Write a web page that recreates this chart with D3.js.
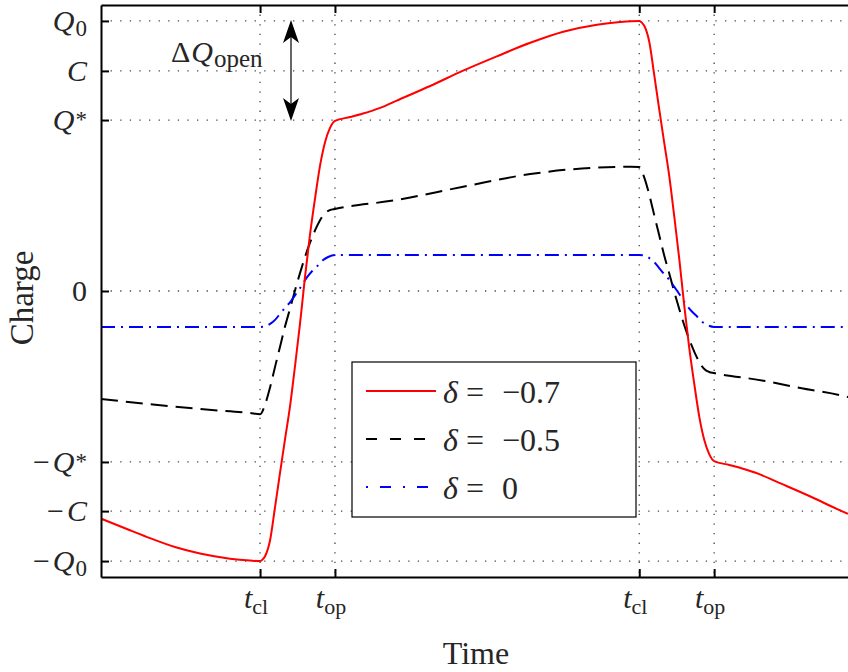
<!DOCTYPE html>
<html><head><meta charset="utf-8">
<script src="https://cdn.jsdelivr.net/npm/d3@7"></script>
<style>html,body{margin:0;padding:0;background:#fff;} svg{display:block;}</style>
</head><body>
<svg id="c" width="848" height="672"></svg>
<script>
// ---------- data ----------
const xTickValues = [41.95, 61.7, 141.95, 161.7];
const xTickLabels = [["t","cl"],["t","op"],["t","cl"],["t","op"]];
const yTickValues = [-100, -81.5, -63.3, 0, 63.3, 81.5, 100];
// [prefix, main(italic), sub, sup]
const yTickLabels = [["−","Q","0",""],["−","C","",""],["−","Q","","*"],["","0","",""],["","Q","","*"],["","C","",""],["","Q","0",""]];
const seriesNames = ["δ = −0.7","δ = −0.5","δ = 0"];
const seriesColors = ["#ff0000","#000000","#0000ff"];

const redT = [0, 7.65, 12.9, 19.5, 26.1, 34.0, 39.3, 41.95, 42.7, 43.3, 44.6, 45.9, 47.2, 48.5, 49.9, 51.2, 52.5, 53.8, 55.1, 56.5, 57.8, 59.1, 60.4, 61.7, 65.7, 69.1, 73.6, 78.0, 86.8, 95.5, 104.4, 113.2, 121.9, 130.8, 136.9, 141.95, 142.7, 143.3, 144.6, 145.9, 147.2, 148.5, 149.9, 151.2, 152.5, 153.8, 155.1, 156.5, 157.8, 159.1, 160.4, 161.7, 165.7, 169.1, 173.6, 178.0, 186.8, 195.5, 197];
const redQ = [-84.3, -88.6, -91.5, -94.8, -97.2, -99.1, -99.8, -100, -99.3, -98.1, -92.2, -80.0, -67.4, -55.2, -42.2, -27.4, -11.9, 5.2, 20.7, 34.8, 46.7, 55.2, 60.4, 63.0, 64.4, 65.7, 67.8, 70.5, 75.9, 81.6, 86.9, 91.9, 96.0, 98.6, 99.6, 100, 99.3, 98.1, 92.2, 80.0, 67.4, 55.2, 42.2, 27.4, 11.9, -5.2, -20.7, -34.8, -46.7, -55.2, -60.4, -63.0, -64.4, -65.7, -67.8, -70.5, -75.9, -81.6, -82.5];

const blackT = [0, 12.9, 26.1, 39.3, 41.95, 43.3, 44.6, 45.9, 47.2, 48.5, 49.9, 51.2, 52.5, 53.8, 55.1, 56.5, 57.8, 59.1, 60.4, 61.7, 78.0, 95.5, 113.2, 130.8, 139.6, 141.95, 143.3, 144.6, 145.9, 147.2, 148.5, 149.9, 151.2, 152.5, 153.8, 155.1, 156.5, 157.8, 159.1, 160.4, 161.7, 174.7, 184.4, 195.9, 197];
const blackQ = [-40.0, -41.9, -43.7, -45.2, -45.6, -41.9, -35.6, -28.1, -20.7, -13.3, -6.3, 0.4, 6.7, 12.6, 17.8, 22.6, 26.3, 28.9, 30.0, 30.4, 33.7, 38.6, 43.3, 45.7, 46.0, 45.9, 41.9, 35.6, 28.1, 20.7, 13.3, 6.3, -0.4, -6.7, -12.6, -17.8, -22.6, -26.3, -28.9, -30.0, -30.4, -33.2, -35.9, -38.9, -39.3];

const blueT = [0, 41.95, 43.3, 44.6, 45.9, 47.2, 48.5, 49.9, 51.2, 52.5, 54.4, 55.7, 57.3, 58.6, 59.9, 61.7, 141.95, 143.3, 144.6, 145.9, 147.2, 148.5, 149.9, 151.2, 152.5, 154.4, 155.7, 157.3, 158.6, 159.9, 161.7, 197];
const blueQ = [-13.3, -13.3, -13.1, -12.2, -10.7, -8.5, -6.3, -4.1, -1.5, 1.1, 5.2, 7.4, 9.6, 11.5, 12.6, 13.3, 13.3, 13.1, 12.2, 10.7, 8.5, 6.3, 4.1, 1.5, -1.1, -5.2, -7.4, -9.6, -11.5, -12.6, -13.3, -13.3];

// ---------- chart ----------
const FONT = "'Liberation Serif', 'Times New Roman', serif";
const TXT = "#262626";
const pL = 101, pR = 848, pT = 5, pB = 577;
const svg = d3.select("#c");
const x = d3.scaleLinear().domain([0, 197]).range([pL, pR]);
const y = d3.scaleLinear().domain([-105.9, 105.9]).range([pB, pT]);

svg.append("defs").append("clipPath").attr("id","clip")
  .append("rect").attr("x", pL).attr("y", pT).attr("width", pR-pL).attr("height", pB-pT);

// grid
const grid = svg.append("g").attr("stroke","#444").attr("stroke-width",1.3).attr("stroke-dasharray","1.3,8.3");
grid.selectAll(".gx").data(xTickValues).enter().append("line")
  .attr("x1", d=>x(d)).attr("x2", d=>x(d)).attr("y1", pT).attr("y2", pB);
grid.selectAll(".gy").data(yTickValues).enter().append("line")
  .attr("y1", d=>y(d)).attr("y2", d=>y(d)).attr("x1", pL).attr("x2", pR);

// series
const series = [
  {t: redT, q: redQ, color: seriesColors[0], dash: null},
  {t: blackT, q: blackQ, color: seriesColors[1], dash: "17,8"},
  {t: blueT, q: blueQ, color: seriesColors[2], dash: "14,6,2,6"}
];
const line = d3.line().x(d=>x(d[0])).y(d=>y(d[1])).curve(d3.curveMonotoneX);
const plot = svg.append("g").attr("clip-path","url(#clip)");
[1,2,0].forEach(i => {
  const s = series[i];
  plot.append("path").datum(s.t.map((t,k)=>[t, s.q[k]]))
    .attr("d", line).attr("fill","none").attr("stroke", s.color)
    .attr("stroke-width", 2).attr("stroke-linejoin","round")
    .attr("stroke-dasharray", s.dash);
});

// axes
function styleAxis(g){
  g.select(".domain").attr("stroke","#000").attr("stroke-width",2);
  g.selectAll(".tick line").attr("stroke","#000").attr("stroke-width",2);
  g.selectAll(".tick text").remove();
}
svg.append("g").attr("transform",`translate(0,${pB})`)
  .call(d3.axisBottom(x).tickValues(xTickValues).tickSize(-8).tickSizeOuter(0)).call(styleAxis);
svg.append("g").attr("transform",`translate(0,${pT})`)
  .call(d3.axisTop(x).tickValues(xTickValues).tickSize(-8).tickSizeOuter(0)).call(styleAxis);
svg.append("g").attr("transform",`translate(${pL},0)`)
  .call(d3.axisLeft(y).tickValues(yTickValues).tickSize(-8).tickSizeOuter(0)).call(styleAxis);

// y tick labels
yTickLabels.forEach((lab, i) => {
  const t = svg.append("text").attr("x", 87).attr("y", y(yTickValues[i]) + 10)
    .attr("text-anchor","end").attr("font-family", FONT).attr("font-size", 30).attr("fill", TXT);
  if (lab[0]) t.append("tspan").text(lab[0]);
  const isNum = lab[1] === "0";
  const m = t.append("tspan").attr("font-style", isNum ? "normal" : "italic").text(lab[1]);
  if (lab[0]) m.attr("dx", 3);
  if (lab[2]) t.append("tspan").attr("font-size", 23).attr("dy", 5).attr("dx", 1).text(lab[2]);
  if (lab[3]) t.append("tspan").attr("font-size", 23).attr("dy", -3).attr("dx", 1).text(lab[3]);
});

// x tick labels
xTickLabels.forEach((lab, i) => {
  const t = svg.append("text").attr("x", x(xTickValues[i]) - 4).attr("y", 608)
    .attr("text-anchor","middle").attr("font-family", FONT).attr("font-size", 30).attr("fill", TXT);
  t.append("tspan").attr("font-style","italic").text(lab[0]);
  t.append("tspan").attr("font-size", 22).attr("dy", 6).text(lab[1]);
});

// axis titles
svg.append("text").attr("x", 476).attr("y", 664).attr("text-anchor","middle")
  .attr("font-family", FONT).attr("font-size", 32).attr("fill", TXT).text("Time");
svg.append("text").attr("transform","translate(33,298) rotate(-90)").attr("text-anchor","middle")
  .attr("font-family", FONT).attr("font-size", 33).attr("fill", TXT).text("Charge");

// annotation ΔQ_open
const ann = svg.append("text").attr("x", 171).attr("y", 62)
  .attr("font-family", FONT).attr("font-size", 30).attr("fill", TXT);
ann.append("tspan").text("Δ");
ann.append("tspan").attr("font-style","italic").attr("dx", 1).text("Q");
ann.append("tspan").attr("font-size", 25).attr("dy", 5).attr("dx", 1).text("open");

// double arrow between Q0 and Q*
const ax = 291, a1 = y(100), a2 = y(63.3);
svg.append("line").attr("x1", ax).attr("x2", ax).attr("y1", a1 + 10).attr("y2", a2 - 10)
  .attr("stroke","#000").attr("stroke-width",1.2);
svg.append("path").attr("d", `M${ax},${a1-1} L${ax+8},${a1+22} L${ax},${a1+16} L${ax-8},${a1+22} Z`).attr("fill","#000");
svg.append("path").attr("d", `M${ax},${a2+1} L${ax+8},${a2-22} L${ax},${a2-16} L${ax-8},${a2-22} Z`).attr("fill","#000");

// legend
const lg = svg.append("g");
lg.append("rect").attr("x", 352).attr("y", 362).attr("width", 284).attr("height", 155)
  .attr("fill","#fff").attr("stroke","#000").attr("stroke-width",1.2);
const legendDash = [null, "11,13", "2,12,11,12"];
seriesNames.forEach((name, i) => {
  const ly = 391 + i * 48;
  lg.append("line").attr("x1", 366).attr("x2", 436).attr("y1", ly).attr("y2", ly)
    .attr("stroke", seriesColors[i]).attr("stroke-width", 2).attr("stroke-dasharray", legendDash[i]);
  const parts = name.split(" ");
  const t = lg.append("text").attr("y", ly + 12).attr("font-family", FONT).attr("font-size", 32).attr("fill", TXT);
  t.append("tspan").attr("x", 443).attr("font-style","italic").text(parts[0]);
  t.append("tspan").attr("x", 466).text(parts[1]);
  t.append("tspan").attr("x", 502).text(parts[2]);
});
</script>
</body></html>
